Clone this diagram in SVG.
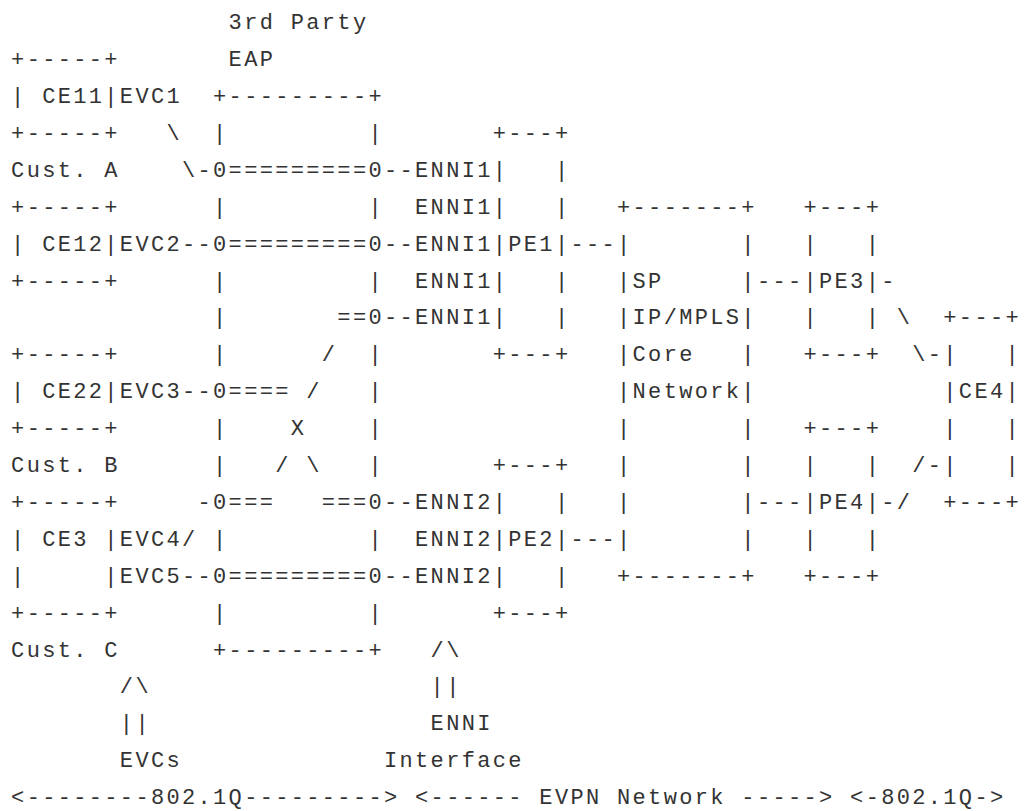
<svg xmlns="http://www.w3.org/2000/svg" width="1027" height="811" viewBox="0 0 1027 811">
<style>
.t{font-family:"Liberation Mono","DejaVu Sans Mono",monospace;font-size:22px;letter-spacing:2.335px;fill:#333;white-space:pre}
</style>
<rect width="1027" height="811" fill="#fff"/>
<g id="figure" xml:space="preserve">
<text class="t" x="11.1" y="29.2">              3rd Party</text>
<text class="t" x="11.1" y="66.1">+-----+       EAP</text>
<text class="t" x="11.1" y="103">| CE11|EVC1  +---------+</text>
<text class="t" x="11.1" y="139.9">+-----+   \  |         |       +---+</text>
<text class="t" x="11.1" y="176.8">Cust. A    \-0=========0--ENNI1|   |</text>
<text class="t" x="11.1" y="213.7">+-----+      |         |  ENNI1|   |   +-------+   +---+</text>
<text class="t" x="11.1" y="250.6">| CE12|EVC2--0=========0--ENNI1|PE1|---|       |   |   |</text>
<text class="t" x="11.1" y="287.5">+-----+      |         |  ENNI1|   |   |SP     |---|PE3|-</text>
<text class="t" x="11.1" y="324.4">             |       ==0--ENNI1|   |   |IP/MPLS|   |   | \  +---+</text>
<text class="t" x="11.1" y="361.3">+-----+      |      /  |       +---+   |Core   |   +---+  \-|   |</text>
<text class="t" x="11.1" y="398.2">| CE22|EVC3--0==== /   |               |Network|            |CE4|</text>
<text class="t" x="11.1" y="435.1">+-----+      |    X    |               |       |   +---+    |   |</text>
<text class="t" x="11.1" y="472">Cust. B      |   / \   |       +---+   |       |   |   |  /-|   |</text>
<text class="t" x="11.1" y="508.9">+-----+     -0===   ===0--ENNI2|   |   |       |---|PE4|-/  +---+</text>
<text class="t" x="11.1" y="545.8">| CE3 |EVC4/ |         |  ENNI2|PE2|---|       |   |   |</text>
<text class="t" x="11.1" y="582.7">|     |EVC5--0=========0--ENNI2|   |   +-------+   +---+</text>
<text class="t" x="11.1" y="619.6">+-----+      |         |       +---+</text>
<text class="t" x="11.1" y="656.5">Cust. C      +---------+   /\</text>
<text class="t" x="11.1" y="693.4">       /\                  ||</text>
<text class="t" x="11.1" y="730.3">       ||                  ENNI</text>
<text class="t" x="11.1" y="767.2">       EVCs             Interface</text>
<text class="t" x="11.1" y="804.1">&lt;--------802.1Q---------&gt; &lt;------ EVPN Network -----&gt; &lt;-802.1Q-&gt;</text>
</g>
</svg>
